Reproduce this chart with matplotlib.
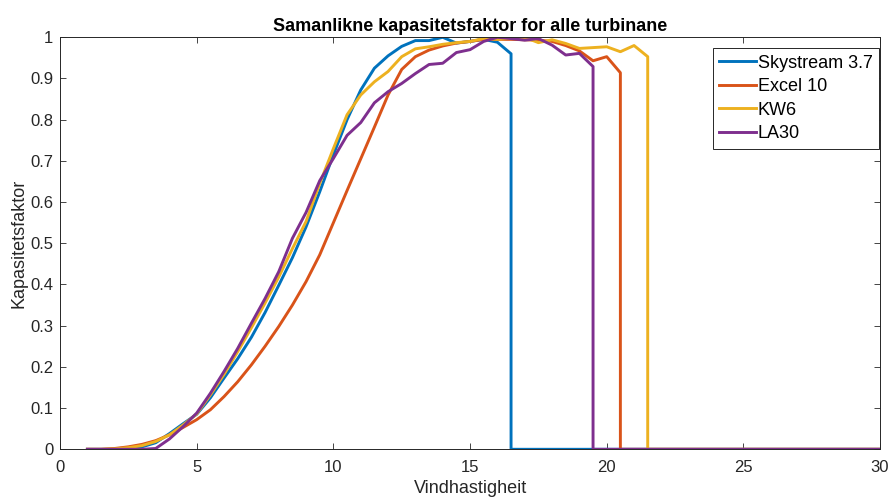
import numpy as np
import matplotlib
matplotlib.use("Agg")
import matplotlib.pyplot as plt

# wind speed grid (m/s), 0.5 steps
wind = np.arange(1.0, 30.01, 0.5)

# capacity factor from v=1 up to each turbine's cut-out speed, zero afterwards
skystream = [0, 0, 0, 0.002, 0.006, 0.016, 0.038, 0.062, 0.085, 0.125,
             0.173, 0.22, 0.272, 0.332, 0.398, 0.465, 0.54, 0.625, 0.715, 0.80,
             0.872, 0.925, 0.955, 0.978, 0.992, 0.992, 1.0, 0.986, 0.99, 0.995,
             0.988, 0.96]
excel10 = [0, 0, 0.002, 0.006, 0.012, 0.021, 0.035, 0.053, 0.072, 0.096,
           0.128, 0.164, 0.205, 0.25, 0.298, 0.35, 0.407, 0.472, 0.55, 0.628,
           0.705, 0.782, 0.86, 0.922, 0.953, 0.969, 0.979, 0.986, 0.99, 0.995,
           0.995, 0.995, 0.994, 0.993, 0.99, 0.98, 0.967, 0.943, 0.953, 0.914]
kw6 = [0, 0, 0.001, 0.004, 0.009, 0.019, 0.035, 0.059, 0.086, 0.132,
       0.182, 0.237, 0.295, 0.355, 0.418, 0.487, 0.553, 0.645, 0.73, 0.812,
       0.86, 0.892, 0.917, 0.953, 0.972, 0.977, 0.983, 0.987, 0.99, 0.997,
       0.995, 0.998, 1.0, 0.987, 0.994, 0.985, 0.973, 0.975, 0.977, 0.965,
       0.98, 0.953]
la30 = [0, 0, 0, 0, 0, 0.002, 0.025, 0.055, 0.088, 0.136,
        0.189, 0.245, 0.306, 0.366, 0.431, 0.512, 0.575, 0.652, 0.706, 0.762,
        0.793, 0.841, 0.868, 0.888, 0.912, 0.934, 0.937, 0.963, 0.97, 0.99,
        1.0, 0.997, 0.993, 0.997, 0.981, 0.957, 0.961, 0.929]

names = ["Skystream 3.7", "Excel 10", "KW6", "LA30"]
colors = ["#0072BD", "#D95319", "#EDB120", "#7E2F8E"]
yticklabels = ["0", "0.1", "0.2", "0.3", "0.4", "0.5", "0.6", "0.7", "0.8", "0.9", "1"]

plt.rcParams["font.family"] = ["Liberation Sans", "DejaVu Sans"]


def full_curve(vals):
    # vertical drop to zero at the cut-out speed
    n = len(vals)
    x = np.r_[wind[:n], wind[n - 1:]]
    y = np.r_[vals, np.zeros(len(wind) - n + 1)]
    return x, y


fig = plt.figure(figsize=(8.9, 4.98), dpi=100)
ax = fig.add_axes([0.0675, 0.0978, 0.9213, 0.8273])

for vals, name, c in zip([skystream, excel10, kw6, la30], names, colors):
    x, y = full_curve(vals)
    ax.plot(x, y, color=c, lw=2.1, label=name)

ax.set_xlim(0, 30)
ax.set_ylim(0, 1)
ax.set_xticks(np.arange(0, 31, 5))
ax.set_yticks(np.arange(0, 1.01, 0.1))
ax.set_yticklabels(yticklabels)
ax.tick_params(direction="in", length=4, width=0.6, colors="#262626", labelsize=12,
               top=True, right=True)
ax.tick_params(axis="x", pad=8)
ax.tick_params(axis="y", pad=5)
for s in ax.spines.values():
    s.set_color("#262626")
    s.set_linewidth(0.7)

ax.set_title("Samanlikne kapasitetsfaktor for alle turbinane", fontsize=13,
             fontweight="bold", pad=4.5)
ax.set_xlabel("Vindhastigheit", fontsize=13, color="#262626", labelpad=3.5)
ax.set_ylabel("Kapasitetsfaktor", fontsize=13, color="#262626", labelpad=2)

leg = ax.legend(loc="upper right", bbox_to_anchor=(0.9988, 0.9733), borderaxespad=0,
                fontsize=13, fancybox=False, framealpha=1, edgecolor="#262626",
                handlelength=2.0, handletextpad=0.12, labelspacing=0.36, borderpad=0.36)
leg.get_frame().set_linewidth(0.7)

fig.savefig("out.png", dpi=100)
